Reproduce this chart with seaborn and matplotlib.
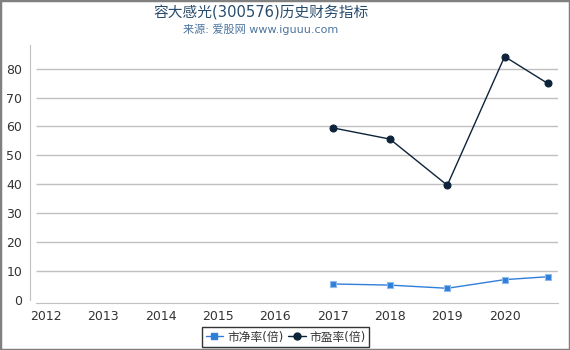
import matplotlib
matplotlib.use("Agg")
import matplotlib.pyplot as plt
import seaborn as sns
import pandas as pd
from matplotlib.lines import Line2D
from matplotlib.patches import Rectangle

years = [2017, 2018, 2019, 2020, 2020.75]
pb = [5.4, 5.0, 3.9, 6.9, 7.9]
pe = [59.5, 55.6, 39.6, 84.2, 74.9]
x_ticks = [2012, 2013, 2014, 2015, 2016, 2017, 2018, 2019, 2020]
y_ticks = [0, 10, 20, 30, 40, 50, 60, 70, 80]
series_names = ["市净率(倍)", "市盈率(倍)"]
title = "容大感光(300576)历史财务指标"
subtitle = "来源: 爱股网 www.iguuu.com"

sns.set_style("white")
plt.rcParams['font.family'] = ['DejaVu Sans', 'Noto Sans CJK SC']

df = pd.DataFrame({
    "year": years * 2,
    "value": pb + pe,
    "series": [series_names[0]] * len(years) + [series_names[1]] * len(years),
})

W, H = 570, 350
fig = plt.figure(figsize=(W / 100, H / 100), dpi=100)
ax = fig.add_axes([36 / W, (H - 303) / H, (558 - 36) / W, (303 - 45) / H])

colors = {series_names[0]: "#2f7ed8", series_names[1]: "#0d233a"}
markers = {series_names[0]: "s", series_names[1]: "o"}
for name in series_names:
    sub = df[df.series == name]
    sns.lineplot(data=sub, x="year", y="value", ax=ax, color=colors[name],
                 marker=markers[name], markersize=5, linewidth=1,
                 markeredgewidth=0.8,
                 markeredgecolor="#8fbbee" if name == series_names[0] else colors[name],
                 legend=False, zorder=3)

ax.set_xlim(2011.83, 2020.93)
ax.set_ylim(-1.2, 88.2)
ax.set_xticks(x_ticks)
ax.set_xticklabels([str(t) for t in x_ticks])
ax.set_yticks(y_ticks)
ax.set_xlabel("")
ax.set_ylabel("")
ax.grid(False)
# horizontal grid lines for every tick except zero (reference has none at 0)
ax.hlines(y_ticks[1:], 0, 1, transform=ax.get_yaxis_transform(), colors="#c0c0c0",
          linewidth=1, zorder=1)
for s in ["top", "right"]:
    ax.spines[s].set_visible(False)
ax.spines["left"].set_position(("outward", 4))
ax.spines["left"].set_bounds(0, 88.2)
ax.spines["left"].set_color("#c0c0c0")
ax.spines["bottom"].set_color("#c0c0c0")
ax.tick_params(axis="both", labelsize=9, labelcolor="#333333", color="#c0c0c0",
               length=4, width=1, pad=2)
ax.tick_params(axis="x", pad=1)

fig.text(261 / W, 1 - 12 / H, title, ha="center", va="center", fontsize=10.6, color="#274b6d")
fig.text(261 / W, 1 - 29 / H, subtitle, ha="center", va="center", fontsize=8, color="#4d759e")

handles = [Line2D([0], [0], color=colors[n], marker=markers[n], markersize=5, linewidth=1,
                  markeredgecolor=colors[n]) for n in series_names]
leg = fig.legend(handles, series_names, loc="center", bbox_to_anchor=(285.5 / W, 1 - 337 / H),
                 ncol=2, fontsize=8.5, frameon=True, fancybox=False, handlelength=1.5,
                 handletextpad=0.3, columnspacing=0.4, borderpad=0.3, labelcolor="#333333")
leg.get_frame().set_edgecolor("black")
leg.get_frame().set_linewidth(1)

fig.patches.append(Rectangle((0, 0), 1, 1, transform=fig.transFigure, fill=False,
                             edgecolor="#808080", linewidth=2.5))

fig.savefig("out.png", dpi=100)
